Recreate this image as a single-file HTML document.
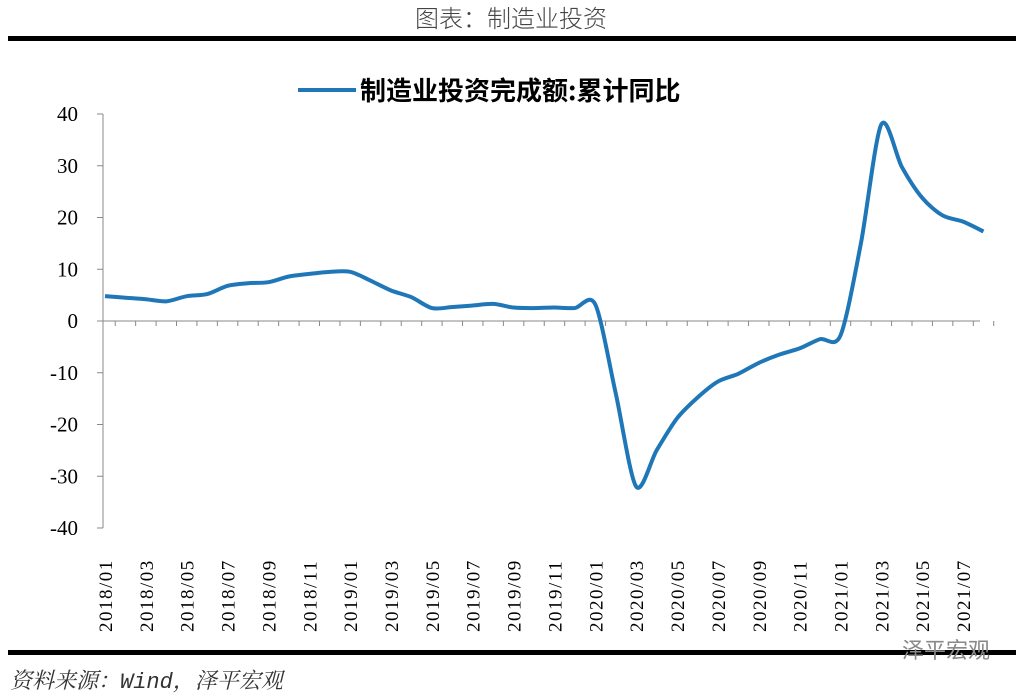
<!DOCTYPE html>
<html><head><meta charset="utf-8"><style>
body{margin:0;background:#fff;width:1023px;height:695px;overflow:hidden;font-family:"Liberation Serif","Noto Serif CJK SC",serif}
</style></head><body>
<svg width="1023" height="695" xmlns="http://www.w3.org/2000/svg">
<text x="511" y="27" text-anchor="middle" font-size="24" fill="#444" font-family="'Noto Sans CJK SC',sans-serif" font-weight="300">图表：制造业投资</text>
<rect x="8" y="36" width="1008" height="5" fill="#000"/>
<g>
<line x1="298" y1="90" x2="356" y2="90" stroke="#1f77b8" stroke-width="4"/>
<text x="360" y="100" font-size="26" font-weight="bold" fill="#000" font-family="'Noto Sans CJK SC',sans-serif">制造业投资完成额:累计同比</text>
</g>
<g id="yaxis"></g>
<g id="xaxis"></g>
<path id="line" fill="none" stroke="#1f77b8" stroke-width="4" stroke-linejoin="round"/>
<rect x="8" y="650" width="1008" height="5" fill="#000"/>
<text x="10" y="688" font-size="22" font-style="italic" fill="#333" font-family="'Liberation Mono','Noto Serif CJK SC',serif">资料来源：Wind，泽平宏观</text>
<text x="990" y="658" text-anchor="end" font-size="22" fill="#888" font-family="'Noto Sans CJK SC',sans-serif">泽平宏观</text>
</svg>
<script>
const values=[4.8,4.5,4.2,3.8,4.8,5.2,6.8,7.3,7.5,8.6,9.1,9.5,9.5,7.8,5.9,4.6,2.5,2.7,3.0,3.3,2.6,2.5,2.6,2.5,3.2,-14,-32,-25,-18.8,-14.8,-11.7,-10.2,-8.1,-6.5,-5.3,-3.5,-2.8,15,38,29.8,23.8,20.4,19.2,17.3];
const yTicks=[40,30,20,10,0,-10,-20,-30,-40];
const xStart=[2018,1];
const NS="http://www.w3.org/2000/svg";
const x0=105,step=20.43,yTop=114,yBot=528,xEnd=980;
const xs=i=>x0+i*step;
const ys=v=>yTop+(40-v)*(yBot-yTop)/80;
function mk(t,a,p){const e=document.createElementNS(NS,t);for(const k in a)e.setAttribute(k,a[k]);p.appendChild(e);return e;}
const ya=document.getElementById('yaxis'),xa=document.getElementById('xaxis');
const ax=mk('line',{x1:103,y1:yTop,x2:103,y2:yBot,stroke:'#888','stroke-width':1},ya);

yTicks.forEach(v=>{
 const t=mk('line',{x1:97,x2:103,y1:ys(v),y2:ys(v),stroke:'#888'},ya);
 
 const l=mk('text',{x:78,y:ys(v)+7,'text-anchor':'end','font-size':21},ya);l.textContent=v;
 
});
const zl=mk('line',{x1:103,x2:xEnd,y1:ys(0),y2:ys(0),stroke:'#888'},xa);

for(let i=0;i<values.length;i++){
 const t=mk('line',{x1:xs(i)+step/2,x2:xs(i)+step/2,y1:ys(0),y2:ys(0)+5,stroke:'#888'},xa);
 
 if(i%2==0){
  const m=(xStart[1]-1+i)%12+1,y=xStart[0]+Math.floor((xStart[1]-1+i)/12);
  const lab=y+'/'+String(m).padStart(2,'0');
  const l=mk('text',{x:0,y:0,'font-size':19,'letter-spacing':'1.5',transform:`translate(${xs(i)+7},632) rotate(-90)`},xa);l.textContent=lab;
  
 }
}
const P=values.map((v,i)=>[xs(i),ys(v)]);
let d=`M${P[0][0]},${P[0][1]}`;
for(let i=0;i<P.length-1;i++){
 const p0=P[Math.max(0,i-1)],p1=P[i],p2=P[i+1],p3=P[Math.min(P.length-1,i+2)],k=1/7;
 d+=` C${p1[0]+(p2[0]-p0[0])*k},${p1[1]+(p2[1]-p0[1])*k} ${p2[0]-(p3[0]-p1[0])*k},${p2[1]-(p3[1]-p1[1])*k} ${p2[0]},${p2[1]}`;
}
document.getElementById('line').setAttribute('d',d);
</script>
</body></html>
